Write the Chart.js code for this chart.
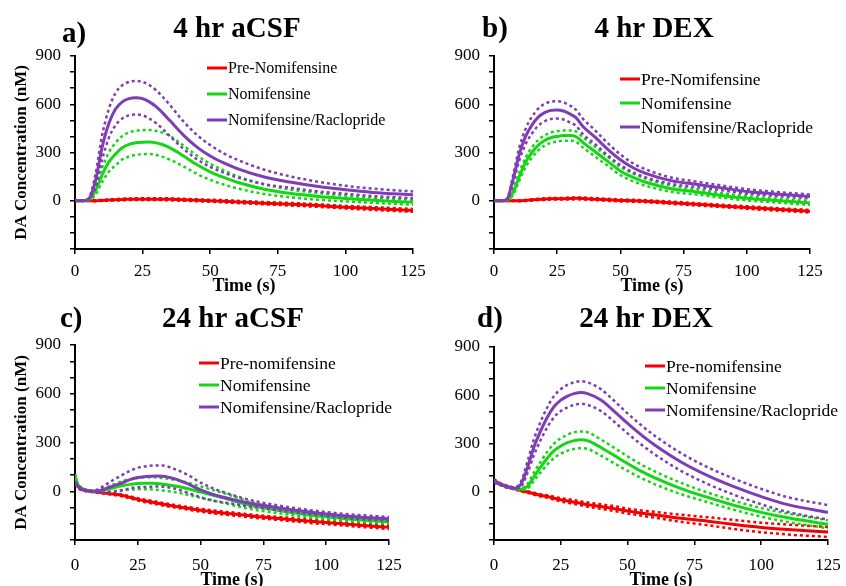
<!DOCTYPE html>
<html>
<head>
<meta charset="utf-8">
<script src="https://cdn.jsdelivr.net/npm/chart.js@4.4.0/dist/chart.umd.min.js"></script>
<style>
  html, body { margin: 0; padding: 0; background: #fff; }
  #wrap { position: relative; width: 846px; height: 586px; overflow: hidden; background: #fff; }
  #wrap canvas { position: absolute; left: 0; top: 0; }
</style>
</head>
<body>
<div id="wrap">
  <canvas id="panelA" width="846" height="586"></canvas>
  <canvas id="panelB" width="846" height="586"></canvas>
  <canvas id="panelC" width="846" height="586"></canvas>
  <canvas id="panelD" width="846" height="586"></canvas>
</div>
<script>
// Sampling times (s) shared by every trace
const time = [0, 1, 2.5, 5, 7.5, 10, 12.5, 15, 17.5, 20, 22.5, 25, 27.5, 30, 32.5, 35, 40, 45, 50, 55, 60, 70, 80, 90, 100, 110, 125];

// Labelled y ticks (nM)
const yTickLabels = [0, 300, 600, 900];

// a) 4 hr aCSF — mean and SEM (nM)
const aPreMean = [0, 0, 0, 0, 0, 2, 4, 6, 8, 9, 10, 10, 10, 10, 10, 9, 6, 3, 0, -3, -7, -15, -22, -30, -40, -48, -60];
const aPreSem  = [0, 0, 1, 2, 3, 3, 4, 4, 5, 5, 5, 6, 6, 6, 6, 6, 6, 6, 6, 7, 7, 7, 8, 8, 8, 9, 9];
const aNomMean = [0, 0, 0, 5, 60, 160, 240, 290, 330, 350, 360, 364, 365, 360, 348, 330, 280, 225, 180, 145, 115, 72, 45, 27, 14, 3, -10];
const aNomSem  = [0, 0, 0, 3, 25, 45, 60, 70, 73, 75, 75, 75, 75, 75, 75, 74, 65, 57, 50, 44, 38, 30, 24, 21, 18, 16, 15];
const aRacMean = [0, 0, 0, 10, 120, 330, 480, 570, 615, 635, 641, 635, 615, 585, 545, 500, 410, 335, 278, 235, 200, 148, 115, 88, 68, 52, 37];
const aRacSem  = [0, 0, 0, 5, 40, 75, 90, 100, 103, 104, 104, 104, 104, 102, 100, 97, 85, 76, 68, 60, 55, 45, 35, 30, 25, 23, 21];

// b) 4 hr DEX
const bPreMean = [0, 0, 0, 0, 0, 0, 2, 5, 8, 10, 12, 12, 13, 14, 15, 14, 10, 6, 2, 0, -3, -12, -22, -32, -42, -52, -65];
const bPreSem  = [0, 0, 1, 2, 2, 3, 3, 4, 4, 5, 5, 5, 5, 6, 6, 6, 6, 6, 6, 6, 6, 7, 7, 7, 8, 8, 8];
const bNomMean = [0, 0, 0, 3, 50, 150, 240, 300, 345, 375, 392, 400, 405, 405, 398, 365, 305, 245, 185, 145, 115, 75, 55, 33, 15, 3, -14];
const bNomSem  = [0, 0, 0, 2, 15, 25, 30, 32, 32, 32, 32, 32, 32, 32, 32, 32, 30, 28, 26, 24, 22, 19, 16, 14, 13, 12, 12];
const bRacMean = [0, 0, 0, 6, 130, 290, 400, 470, 520, 548, 562, 565, 558, 540, 515, 465, 395, 320, 255, 205, 170, 125, 102, 80, 58, 44, 27];
const bRacSem  = [0, 0, 0, 3, 25, 40, 48, 52, 53, 54, 54, 54, 53, 52, 50, 48, 43, 38, 33, 28, 25, 20, 17, 15, 14, 13, 12];

// c) 24 hr aCSF
const cPreMean = [53, 30, 12, 3, -3, -8, -12, -17, -22, -30, -40, -50, -58, -65, -72, -80, -93, -105, -117, -127, -135, -152, -166, -180, -193, -205, -222];
const cPreSem  = [8, 6, 5, 4, 4, 4, 5, 5, 6, 6, 7, 7, 8, 8, 8, 8, 8, 8, 9, 9, 9, 9, 9, 10, 10, 10, 11];
const cNomMean = [100, 45, 20, 5, 0, 3, 10, 20, 30, 38, 43, 47, 49, 49, 47, 43, 32, 15, -5, -25, -45, -88, -115, -138, -157, -172, -188];
const cNomSem  = [5, 5, 4, 3, 2, 8, 14, 20, 25, 30, 33, 35, 37, 37, 38, 38, 38, 37, 35, 32, 30, 22, 18, 16, 15, 13, 12];
const cRacMean = [55, 35, 15, 3, 0, 5, 18, 32, 45, 60, 75, 84, 89, 92, 94, 93, 75, 45, 8, -20, -40, -75, -100, -122, -140, -155, -170];
const cRacSem  = [5, 5, 4, 3, 2, 15, 25, 35, 43, 50, 55, 60, 63, 65, 65, 65, 60, 55, 45, 38, 30, 20, 15, 13, 12, 12, 12];

// d) 24 hr DEX
const dPreMean = [75, 62, 48, 33, 20, 8, -2, -12, -22, -30, -40, -50, -57, -65, -72, -80, -92, -105, -120, -132, -143, -165, -183, -204, -222, -235, -250];
const dPreSem  = [5, 5, 5, 5, 5, 5, 5, 6, 7, 8, 9, 10, 11, 12, 12, 13, 14, 15, 15, 16, 18, 22, 25, 28, 30, 31, 31];
const dNomMean = [65, 55, 45, 30, 20, 15, 33, 95, 155, 210, 255, 285, 305, 318, 323, 318, 275, 225, 175, 128, 88, 20, -35, -85, -128, -162, -202];
const dNomSem  = [5, 5, 5, 5, 5, 5, 15, 25, 33, 40, 45, 48, 50, 52, 52, 52, 50, 48, 45, 42, 40, 35, 30, 28, 27, 26, 25];
const dRacMean = [65, 55, 45, 30, 22, 45, 150, 280, 380, 465, 530, 570, 595, 610, 617, 610, 570, 500, 425, 355, 292, 185, 100, 30, -30, -80, -128];
const dRacSem  = [5, 5, 5, 5, 5, 15, 35, 50, 57, 62, 66, 68, 70, 70, 70, 70, 68, 65, 62, 60, 58, 55, 52, 50, 48, 46, 45];

const namesUpper = ['Pre-Nomifensine', 'Nomifensine', 'Nomifensine/Raclopride'];
const namesLower = ['Pre-nomifensine', 'Nomifensine', 'Nomifensine/Raclopride'];

const FAMILY = "'Liberation Serif', 'Times New Roman', serif";
const RED = '#F40000', GREEN = '#14D614', PURPLE = '#7E3DB4';
const W = 846, H = 586;

Chart.defaults.font.family = FAMILY;
Chart.defaults.color = '#000';

// One trace = solid mean line plus dotted mean±SEM lines
function trace(label, mean, sem, color, order) {
  const pts = arr => time.map((t, i) => ({ x: t, y: arr[i] }));
  const upper = mean.map((m, i) => m + sem[i]);
  const lower = mean.map((m, i) => m - sem[i]);
  const dotted = {
    borderColor: color, borderWidth: 2.5, borderDash: [3, 3],
    pointRadius: 0, cubicInterpolationMode: 'monotone', fill: false, order: order + 0.5
  };
  return [
    Object.assign({ label: label + ' + SEM', data: pts(upper) }, dotted),
    Object.assign({ label: label + ' − SEM', data: pts(lower) }, dotted),
    {
      label, data: pts(mean), borderColor: color, backgroundColor: color,
      borderWidth: 3, pointRadius: 0, cubicInterpolationMode: 'monotone',
      fill: false, order, inLegend: true
    }
  ];
}

// Panel letter, heading and the short-line legend
const panelDecor = {
  id: 'panelDecor',
  afterDraw(chart, args, o) {
    const ctx = chart.ctx;
    ctx.save();
    ctx.fillStyle = '#000';
    ctx.font = `bold 29px ${FAMILY}`;
    ctx.textBaseline = 'alphabetic';
    ctx.textAlign = 'left';
    ctx.fillText(o.letter, o.letterX, o.letterY);
    ctx.textAlign = 'center';
    ctx.fillText(o.title, o.titleX, o.titleY);

    ctx.font = `${o.legendSize}px ${FAMILY}`;
    ctx.textAlign = 'left';
    ctx.textBaseline = 'middle';
    let row = 0;
    chart.data.datasets.forEach(ds => {
      if (!ds.inLegend) return;
      const y = o.legendY + row * o.legendDy;
      ctx.strokeStyle = ds.borderColor;
      ctx.lineWidth = 3;
      ctx.setLineDash([]);
      ctx.beginPath();
      ctx.moveTo(o.legendX, y);
      ctx.lineTo(o.legendX + 20, y);
      ctx.stroke();
      ctx.fillStyle = '#000';
      ctx.fillText(ds.label, o.legendX + 21, y + 1);
      row++;
    });
    ctx.restore();
  }
};

// p.area = [left, top, right, bottom] of the plotting area on the page
function makePanel(id, p) {
  const [L, T, R, B] = p.area;
  const xH = 50;
  const datasets = [
    ...trace(p.names[0], p.pre[0], p.pre[1], RED, 3),
    ...trace(p.names[1], p.nom[0], p.nom[1], GREEN, 2),
    ...trace(p.names[2], p.rac[0], p.rac[1], PURPLE, 1)
  ];
  const axisGrid = { drawOnChartArea: false, drawTicks: true, tickLength: 5, color: '#000', lineWidth: 1.5 };
  const axisBorder = { display: true, color: '#000', width: 2 };
  new Chart(document.getElementById(id), {
    type: 'line',
    data: { datasets },
    options: {
      responsive: false,
      animation: false,
      events: [],
      layout: { padding: { left: L - p.yW, top: T, right: W - R, bottom: H - B - xH } },
      plugins: { legend: { display: false }, tooltip: { enabled: false }, panelDecor: p.decor },
      scales: {
        x: {
          type: 'linear', min: 0, max: 125,
          ticks: { stepSize: 25, color: '#000', font: { size: 17 }, padding: p.xPad, maxRotation: 0, autoSkip: false },
          grid: axisGrid, border: axisBorder,
          title: { display: true, text: 'Time (s)', color: '#000', font: { size: 18, weight: 'bold' },
                   padding: { top: 0, bottom: xH - (p.timeY - B) - 10.8 } },
          afterFit(s) { s.height = xH; s.paddingLeft = 0; s.paddingRight = 0; }
        },
        y: {
          type: 'linear', min: -300, max: 900,
          ticks: {
            stepSize: 100, color: '#000', font: { size: 17 }, padding: 9, autoSkip: false,
            callback: v => (yTickLabels.includes(v) ? String(v) : '')
          },
          grid: axisGrid, border: axisBorder,
          title: { display: !!p.yTitle, text: p.yTitle || '', color: '#000', font: { size: 17, weight: 'bold' }, padding: { top: 3, bottom: 0 } },
          afterFit(s) { s.width = p.yW; s.paddingTop = 0; s.paddingBottom = 0; }
        }
      }
    },
    plugins: [panelDecor]
  });
}

const yTitle = 'DA Concentration (nM)';

makePanel('panelA', {
  names: namesUpper, pre: [aPreMean, aPreSem], nom: [aNomMean, aNomSem], rac: [aRacMean, aRacSem],
  area: [75, 56, 413, 249], yW: 67, xPad: 7, timeY: 286, yTitle,
  decor: { letter: 'a)', letterX: 62, letterY: 42, title: '4 hr aCSF', titleX: 237, titleY: 37,
           legendX: 207, legendY: 68, legendDy: 26, legendSize: 16 }
});
makePanel('panelB', {
  names: namesUpper, pre: [bPreMean, bPreSem], nom: [bNomMean, bNomSem], rac: [bRacMean, bRacSem],
  area: [494, 56, 810, 249], yW: 71, xPad: 7, timeY: 286, yTitle: null,
  decor: { letter: 'b)', letterX: 482, letterY: 37, title: '4 hr DEX', titleX: 654, titleY: 37,
           legendX: 620, legendY: 79, legendDy: 24, legendSize: 17.5 }
});
makePanel('panelC', {
  names: namesLower, pre: [cPreMean, cPreSem], nom: [cNomMean, cNomSem], rac: [cRacMean, cRacSem],
  area: [75, 345, 389, 540], yW: 67, xPad: 10, timeY: 580, yTitle,
  decor: { letter: 'c)', letterX: 60, letterY: 327, title: '24 hr aCSF', titleX: 233, titleY: 327,
           legendX: 199, legendY: 363, legendDy: 22, legendSize: 17.5 }
});
makePanel('panelD', {
  names: namesLower, pre: [dPreMean, dPreSem], nom: [dNomMean, dNomSem], rac: [dRacMean, dRacSem],
  area: [494, 347, 828, 540], yW: 71, xPad: 10, timeY: 580, yTitle: null,
  decor: { letter: 'd)', letterX: 477, letterY: 327, title: '24 hr DEX', titleX: 646, titleY: 327,
           legendX: 645, legendY: 366, legendDy: 22, legendSize: 17.5 }
});
</script>
</body>
</html>
